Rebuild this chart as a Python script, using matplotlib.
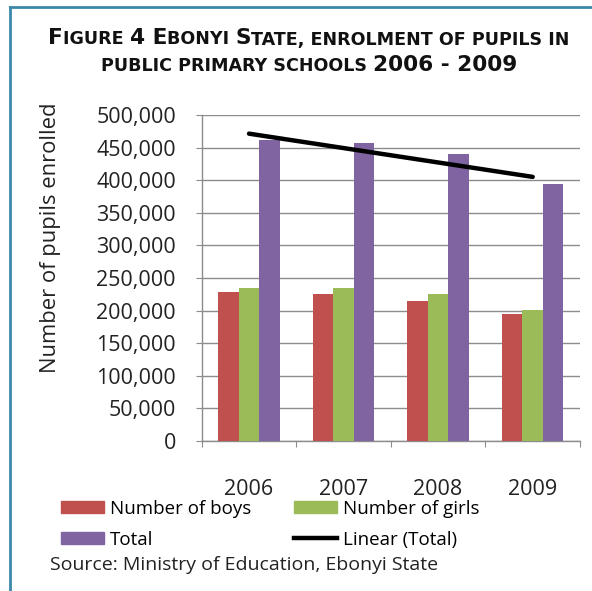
import numpy as np
import matplotlib.pyplot as plt
from matplotlib.lines import Line2D
from matplotlib.patches import Patch
from matplotlib.ticker import FuncFormatter

years = ["2006", "2007", "2008", "2009"]
boys = [229000, 225000, 215000, 195000]
girls = [234000, 234000, 225000, 201000]
total = [462000, 457000, 440000, 394000]

yticks = np.arange(0, 500001, 50000)

BOYS_C = "#C0504D"
GIRLS_C = "#9BBB59"
TOTAL_C = "#8064A2"
GRID_C = "#8C8C8C"
BORDER_C = "#3B88A8"
TICK_FONT = "Open Sans"
TITLE_FONT = "DejaVu Sans"


def draw_runs(fig, runs, y, cx):
    """Draw a line of text made of pieces with different sizes, centred on cx."""
    r = fig.canvas.get_renderer()
    widths = []
    for txt, size in runs:
        t1 = fig.text(0, 0, "|" + txt + "|", fontsize=size, family=TITLE_FONT, weight="bold")
        t2 = fig.text(0, 0, "||", fontsize=size, family=TITLE_FONT, weight="bold")
        w = t1.get_window_extent(r).width - t2.get_window_extent(r).width
        t1.remove()
        t2.remove()
        widths.append(w)
    W = fig.bbox.width
    x = cx * W - sum(widths) / 2
    for (txt, size), w in zip(runs, widths):
        fig.text(x / W, y, txt, fontsize=size, family=TITLE_FONT, weight="bold",
                 va="baseline", ha="left", color="#111111")
        x += w


def main():
    fig = plt.figure(figsize=(5.92, 5.91), dpi=100)
    ax = fig.add_axes([0.3407, 0.2538, 0.9797 - 0.3407, 0.8054 - 0.2538])

    x = np.arange(len(years))
    bw = 0.216
    ax.bar(x - bw, boys, bw, color=BOYS_C, zorder=3)
    ax.bar(x, girls, bw, color=GIRLS_C, zorder=3)
    ax.bar(x + bw, total, bw, color=TOTAL_C, zorder=3)

    # linear trend of the totals
    k, b = np.polyfit(x, total, 1)
    ax.plot(x, k * x + b, color="black", lw=3.2, solid_capstyle="round", zorder=4)

    ax.set_xlim(-0.5, 3.5)
    ax.set_ylim(0, 500000)
    ax.set_yticks(yticks)
    ax.yaxis.set_major_formatter(FuncFormatter(lambda v, p: f"{int(v):,}"))
    ax.grid(axis="y", color=GRID_C, lw=1.0, zorder=0)

    ax.set_xticks(np.arange(-0.5, 3.6, 1))
    ax.set_xticklabels([])
    ax.set_xticks(x, minor=True)
    ax.set_xticklabels(years, minor=True)
    ax.tick_params(axis="x", which="major", length=4.5, color=GRID_C, direction="out")
    ax.tick_params(axis="x", which="minor", length=0, pad=27, labelsize=15.5)
    ax.tick_params(axis="y", length=4.5, color=GRID_C, pad=14, labelsize=15.5)
    for lab in ax.get_xticklabels(minor=True) + ax.get_yticklabels():
        lab.set_family(TICK_FONT)
        lab.set_color("#222222")

    for s in ["top", "right"]:
        ax.spines[s].set_visible(False)
    for s in ["left", "bottom"]:
        ax.spines[s].set_color(GRID_C)
        ax.spines[s].set_linewidth(1.0)

    fig.text(0.085, 1 - 237.5 / 591, "Number of pupils enrolled", rotation=90,
             ha="center", va="center", fontsize=15.8, family=TICK_FONT, color="#222222")

    # title with small caps look
    L, S = 15.6, 12.6
    line1 = [("F", L), ("IGURE ", S), ("4 E", L), ("BONYI ", S), ("S", L),
             ("TATE, ENROLMENT OF PUPILS IN", S)]
    line2 = [("PUBLIC PRIMARY SCHOOLS ", S), ("2006 - 2009", L)]
    draw_runs(fig, line1, 1 - 44.5 / 591, 309 / 592)
    draw_runs(fig, line2, 1 - 71 / 591, 309 / 592)

    handles = [Patch(color=BOYS_C), Patch(color=GIRLS_C), Patch(color=TOTAL_C),
               Line2D([], [], color="black", lw=3.2)]
    labels = ["Number of boys", "Number of girls", "Total", "Linear (Total)"]
    # order for ncol=2 layout (column-major)
    order = [0, 2, 1, 3]
    fig.legend([handles[i] for i in order], [labels[i] for i in order], ncol=2,
               loc="upper left", bbox_to_anchor=(0.103, 1 - 500 / 591), frameon=False,
               prop={"family": TICK_FONT, "size": 13.5}, handlelength=2.3, handleheight=0.6,
               handletextpad=0.3, columnspacing=2.3, labelspacing=0.68, borderpad=0,
               borderaxespad=0)

    fig.text(50 / 592, 1 - 570 / 591, "Source: Ministry of Education, Ebonyi State",
             fontsize=14, family=TICK_FONT, color="#222222", va="baseline")

    # frame lines at top and left
    fig.add_artist(Line2D([10 / 592, 1], [1 - 7 / 591, 1 - 7 / 591], color=BORDER_C, lw=2))
    fig.add_artist(Line2D([10 / 592, 10 / 592], [0, 1 - 7 / 591], color=BORDER_C, lw=2))

    fig.savefig("out.png", dpi=100)


if __name__ == "__main__":
    main()
